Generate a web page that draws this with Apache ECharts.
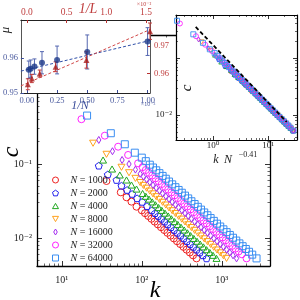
<!DOCTYPE html>
<html><head><meta charset="utf-8">
<script src="https://cdn.jsdelivr.net/npm/echarts@6/dist/echarts.min.js"></script>
<style>html,body{margin:0;padding:0;background:#fff}#c{width:300px;height:300px}</style>
</head><body><div id="c"></div>
<script>
// ---------------- data ----------------
const sizesN = [1000, 2000, 4000, 8000, 16000, 32000, 64000];

const k1000 = [36.2, 54.6, 64.4, 74.3, 85.9, 100, 109.6, 120.2, 131.8, 144.5, 158.5, 173.8, 190.5, 208.9, 229.1, 251.2, 275.4, 302.0, 331.1, 363.1, 398.1, 436.5, 483.1];
const c1000 = [0.0589, 0.0414, 0.0355, 0.0310, 0.0265, 0.02367, 0.02169, 0.01988, 0.01822, 0.01669, 0.01530, 0.01402, 0.01285, 0.01177, 0.01079, 0.00989, 0.00906, 0.00830, 0.00761, 0.00697, 0.00639, 0.00585, 0.00532];

const k2000 = [29.0, 37.6, 48.3, 55.7, 65.5, 75.6, 87.3, 101.2, 116.1, 133.4, 146.2, 160.3, 175.8, 192.8, 211.3, 231.7, 254.1, 278.6, 305.5, 335.0, 367.3, 402.7, 441.6, 484.2, 530.9, 582.1, 644.2];
const c2000 = [0.0948, 0.0722, 0.0608, 0.0509, 0.0446, 0.0394, 0.0344, 0.0308, 0.0270, 0.02367, 0.02169, 0.01988, 0.01822, 0.01669, 0.01530, 0.01402, 0.01285, 0.01177, 0.01079, 0.00989, 0.00906, 0.00830, 0.00761, 0.00697, 0.00639, 0.00585, 0.00532];

const k4000 = [32.8, 42.5, 53.1, 64.4, 74.3, 85.9, 102.3, 112.2, 123.0, 134.9, 147.9, 162.2, 177.8, 195.0, 213.8, 234.4, 257.0, 281.8, 309.0, 338.8, 371.5, 407.4, 446.7, 489.8, 537.0, 588.8, 645.7, 707.9, 776.2, 859.0];
const c4000 = [0.113, 0.0855, 0.0710, 0.0608, 0.0520, 0.0459, 0.03997, 0.03663, 0.03357, 0.03076, 0.02818, 0.02583, 0.02367, 0.02169, 0.01988, 0.01822, 0.01669, 0.01530, 0.01402, 0.01285, 0.01177, 0.01079, 0.00989, 0.00906, 0.00830, 0.00761, 0.00697, 0.00639, 0.00585, 0.00532];

const k8000 = [24.6, 36.2, 55.7, 69.2, 83.2, 95.5, 104.7, 114.8, 125.9, 138.0, 151.4, 166.0, 182.0, 199.5, 218.8, 239.9, 263.0, 288.4, 316.2, 346.7, 380.2, 416.9, 457.1, 501.2, 549.5, 602.6, 660.7, 724.4, 794.3, 871.0, 955.0, 1047, 1146];
const c8000 = [0.1905, 0.135, 0.0902, 0.0761, 0.0639, 0.0561, 0.0514, 0.0471, 0.0431, 0.0395, 0.0362, 0.0332, 0.0304, 0.0279, 0.0255, 0.0234, 0.02146, 0.01966, 0.01802, 0.01651, 0.01513, 0.01387, 0.01271, 0.01164, 0.01067, 0.00978, 0.00896, 0.00821, 0.00752, 0.00690, 0.00632, 0.00579, 0.00532];

const k16000 = [29.0, 43.0, 56.7, 69.2, 83.2, 95.5, 104.7, 114.8, 125.9, 138.0, 151.4, 166.0, 182.0, 199.5, 218.8, 239.9, 263.0, 288.4, 316.2, 346.7, 380.2, 416.9, 457.1, 501.2, 549.5, 602.6, 660.7, 724.4, 794.3, 871.0, 955.0, 1047, 1148, 1259, 1380, 1528];
const c16000 = [0.211, 0.1486, 0.1132, 0.0998, 0.0839, 0.0736, 0.0675, 0.06185, 0.05668, 0.05194, 0.04760, 0.04362, 0.03997, 0.03663, 0.03357, 0.03076, 0.02818, 0.02583, 0.02367, 0.02169, 0.01988, 0.01822, 0.01669, 0.01530, 0.01402, 0.01285, 0.01177, 0.01079, 0.00989, 0.00906, 0.00830, 0.00761, 0.00697, 0.00639, 0.00585, 0.00532];

const k32000 = [17.6, 34.5, 50.6, 67.4, 89.9, 102.3, 112.2, 123.0, 134.9, 147.9, 162.2, 177.8, 195.0, 213.8, 234.4, 257.0, 281.8, 309.0, 338.8, 371.5, 407.4, 446.7, 489.8, 537.0, 588.8, 645.7, 707.9, 776.2, 851.1, 933.3, 1023, 1122, 1230, 1349, 1479, 1622, 1778, 2037];
const c32000 = [0.402, 0.241, 0.171, 0.1324, 0.102, 0.0906, 0.0830, 0.0761, 0.0698, 0.0639, 0.0586, 0.0537, 0.0492, 0.0451, 0.0413, 0.0378, 0.0347, 0.0318, 0.0291, 0.0267, 0.02445, 0.02241, 0.02054, 0.01883, 0.01725, 0.01581, 0.01449, 0.01327, 0.01216, 0.01114, 0.01021, 0.00936, 0.00858, 0.00786, 0.00720, 0.00660, 0.00605, 0.00532];

const k64000 = [20.7, 41.0, 61.3, 81.8, 100, 112.2, 125.9, 138.0, 151.4, 166.0, 182.0, 199.5, 218.8, 239.9, 263.0, 288.4, 316.2, 346.7, 380.2, 416.9, 457.1, 501.2, 549.5, 602.6, 660.7, 724.4, 794.3, 871.0, 955.0, 1047, 1148, 1259, 1380, 1514, 1660, 1820, 1995, 2188, 2399, 2716];
const c64000 = [0.450, 0.260, 0.1845, 0.142, 0.1217, 0.1091, 0.0978, 0.0896, 0.0821, 0.0752, 0.0690, 0.0632, 0.0579, 0.0531, 0.0486, 0.0446, 0.0409, 0.0374, 0.0343, 0.0314, 0.0288, 0.0264, 0.0242, 0.02217, 0.02032, 0.01862, 0.01706, 0.01563, 0.01433, 0.01313, 0.01203, 0.01102, 0.01010, 0.00926, 0.00848, 0.00777, 0.00712, 0.00653, 0.00598, 0.00532];

const collapseExponent = 0.41;
const guideX = [0.485, 21.9];
const guideC = [0.35, 0.00754];

// top-left inset
const invN = [0.015625, 0.03125, 0.0625, 0.125, 0.25, 0.5, 1.0];     // x 1e-3
const muN = [0.9567, 0.9570, 0.9576, 0.9587, 0.9595, 0.9618, 0.9648];
const muNErr = [0.0025, 0.0025, 0.0022, 0.0032, 0.0040, 0.0049, 0.0040];
const fitNx = [-0.05, 1.02];
const fitNy = [0.9563, 0.9651];

const invL = [0.0125, 0.0625, 0.1625, 0.3625, 0.75, 1.55];          // x 1e-2
const muL = [0.9561, 0.9582, 0.9600, 0.9625, 0.9650, 0.9755];
const muLErr = [0.0020, 0.0015, 0.0013, 0.0018, 0.0030, 0.0030];
const fitLx = [-0.075, 1.55];
const fitLy = [0.9555, 0.9761];

const ticks1N = [0, 0.25, 0.5, 0.75, 1.0];
const ticks1L = [0, 0.5, 1.0, 1.5];
const ticksMuN = [0.95, 0.96];
const ticksMuL = [0.96, 0.97];

// ---------------- chart ----------------
const kData = [k1000, k2000, k4000, k8000, k16000, k32000, k64000];
const cData = [c1000, c2000, c4000, c8000, c16000, c32000, c64000];
const names = sizesN.map(n => 'N = ' + n);
const colors = ['#ee2222', '#2222ee', '#22a822', '#ffa21e', '#a42cf0', '#ff22ff', '#3a8ef2'];
const pentagon = 'path://M0,-10L9.51,-3.09L5.88,8.09L-5.88,8.09L-9.51,-3.09Z';
const upTri = 'path://M0,-8.7L10,8.7L-10,8.7Z';
const invTri = 'path://M-10,-8.7L10,-8.7L0,8.7Z';
const thinDiamond = 'path://M0,-10L6,0L0,10L-6,0Z';
const square = 'path://M-10,-10L10,-10L10,10L-10,10Z';
const symbols = ['circle', pentagon, upTri, invTri, thinDiamond, 'circle', square];
const serif = '"Liberation Serif", "DejaVu Serif", serif';
const sup = {'-': '\u207B', '0': '\u2070', '1': '\u00B9', '2': '\u00B2', '3': '\u00B3', '4': '\u2074'};
function pow10(v) {
  const e = Math.round(Math.log10(v));
  return '10' + String(e).split('').map(ch => sup[ch]).join('');
}
function minors(lo, hi) {
  const out = [];
  for (let d = -4; d <= 4; d++) {
    for (let m = 2; m <= 9; m++) {
      const v = m * Math.pow(10, d);
      if (v > lo && v < hi) out.push(+v.toPrecision(3));
    }
  }
  return out;
}

function logAx(grid, pos, min, max, majors, labels, opt) {
  opt = opt || {};
  const axes = [];
  axes.push({
    type: 'log', logBase: 10, gridIndex: grid, position: pos, min: min, max: max, z: opt.z || 0,
    axisLine: {show: true, onZero: false, lineStyle: {color: '#000', width: opt.lw || 1.3}},
    axisTick: {show: true, inside: true, length: opt.major || 5, customValues: majors, lineStyle: {color: '#000', width: 0.8}},
    axisLabel: labels ? {show: true, customValues: labels, formatter: pow10, fontFamily: serif, fontSize: opt.fs || 10, color: '#222', margin: opt.margin || 6} : {show: false},
    splitLine: {show: false}
  });
  axes.push({
    type: 'log', logBase: 10, gridIndex: grid, position: pos, min: min, max: max, z: opt.z || 0,
    axisLine: {show: false, onZero: false},
    axisTick: {show: true, inside: true, length: opt.minor || 2.5, customValues: minors(min, max), lineStyle: {color: '#000', width: 0.6}},
    axisLabel: {show: false},
    splitLine: {show: false}
  });
  return axes;
}

const mainX = [4.9, 4000], mainY = [0.0042, 5.5];
const insX = [0.2125, 33.7], insY = [0.00364, 0.567];

const xAxis = [].concat(
  logAx(0, 'bottom', mainX[0], mainX[1], [10, 100, 1000], [10, 100, 1000], {margin: 9}),   // 0,1
  logAx(0, 'top', mainX[0], mainX[1], [10, 100, 1000], null),                             // 2,3
  [
    { // 4: 1/N
      type: 'value', gridIndex: 1, position: 'bottom', min: fitNx[0], max: fitNx[1], z: 6,
      axisLine: {show: true, onZero: false, lineStyle: {color: '#222', width: 1}},
      axisTick: {show: true, inside: true, length: 3, customValues: ticks1N, lineStyle: {color: '#3a4c9a'}},
      axisLabel: {show: true, customValues: ticks1N, formatter: v => v.toFixed(2), fontFamily: serif, fontSize: 8.5, color: '#4a5a9e', margin: 3},
      splitLine: {show: false}
    },
    { // 5: 1/L
      type: 'value', gridIndex: 1, position: 'top', min: fitLx[0], max: fitLx[1], z: 6,
      axisLine: {show: true, onZero: false, lineStyle: {color: '#222', width: 1}},
      axisTick: {show: true, inside: true, length: 3, customValues: ticks1L, lineStyle: {color: '#b83030'}},
      axisLabel: {show: true, customValues: ticks1L, formatter: v => v.toFixed(1), fontFamily: serif, fontSize: 9.5, color: '#c04040', margin: 3},
      splitLine: {show: false}
    }
  ],
  logAx(2, 'bottom', insX[0], insX[1], [1, 10], [1, 10], {z: 6, fs: 9, margin: 1, major: 4, minor: 2, lw: 1.2}), // 6,7
  logAx(2, 'top', insX[0], insX[1], [1, 10], null, {z: 6, major: 4, minor: 2, lw: 1.2})                         // 8,9
);

const yAxis = [].concat(
  logAx(0, 'left', mainY[0], mainY[1], [0.01, 0.1, 1], [0.01, 0.1], {margin: 5}),  // 0,1
  logAx(0, 'right', mainY[0], mainY[1], [0.01, 0.1, 1], null),                      // 2,3
  [
    { // 4: mu (N)
      type: 'value', gridIndex: 1, position: 'left', min: 0.95, max: 0.971, z: 6,
      axisLine: {show: true, onZero: false, lineStyle: {color: '#555', width: 1}},
      axisTick: {show: true, inside: true, length: 3, customValues: ticksMuN, lineStyle: {color: '#3a4c9a'}},
      axisLabel: {show: true, customValues: ticksMuN, formatter: v => v.toFixed(2), fontFamily: serif, fontSize: 8.5, color: '#4a5a9e', margin: 3},
      splitLine: {show: false}
    },
    { // 5: mu (L)
      type: 'value', gridIndex: 1, position: 'right', min: 0.9529, max: 0.9796, z: 6,
      axisLine: {show: true, onZero: false, lineStyle: {color: '#555', width: 1}},
      axisTick: {show: true, inside: true, length: 3, customValues: ticksMuL, lineStyle: {color: '#b83030'}},
      axisLabel: {show: true, customValues: ticksMuL, formatter: v => v.toFixed(2), fontFamily: serif, fontSize: 8.5, color: '#c04040', margin: 4},
      splitLine: {show: false}
    }
  ],
  logAx(2, 'left', insY[0], insY[1], [0.01, 0.1], [0.01], {z: 6, fs: 9, margin: 4, major: 4, minor: 2, lw: 1.2}), // 6,7
  logAx(2, 'right', insY[0], insY[1], [0.01, 0.1], null, {z: 6, major: 4, minor: 2, lw: 1.2})                    // 8,9
);

const series = [];
sizesN.forEach((n, i) => {
  series.push({
    type: 'scatter', name: names[i], xAxisIndex: 0, yAxisIndex: 0,
    data: kData[i].map((k, j) => [k, cData[i][j]]),
    symbol: symbols[i], symbolSize: 7, symbolKeepAspect: true,
    itemStyle: {color: 'rgba(255,255,255,0)', borderColor: colors[i], borderWidth: 1, opacity: 1},
    z: 2, silent: true
  });
});
sizesN.forEach((n, i) => {
  const f = Math.pow(n, -collapseExponent);
  series.push({
    type: 'scatter', name: 'inset ' + n, xAxisIndex: 6, yAxisIndex: 6,
    data: kData[i].map((k, j) => [k * f, cData[i][j]]),
    symbol: symbols[i], symbolSize: 5, symbolKeepAspect: true,
    itemStyle: {color: 'rgba(255,255,255,0)', borderColor: colors[i], borderWidth: 0.9, opacity: 1},
    z: 8, silent: true
  });
});
series.push({
  type: 'line', name: 'guide', xAxisIndex: 6, yAxisIndex: 6, z: 9,
  data: guideX.map((x, j) => [x, guideC[j]]), showSymbol: false, symbol: 'none',
  lineStyle: {color: '#000', width: 1.8, type: [4, 2.5]}, silent: true
});

function errRender(color) {
  return function (params, api) {
    const x = api.value(0), y = api.value(1), e = api.value(2);
    const a = api.coord([x, y + e]), b = api.coord([x, y - e]);
    const st = {stroke: color, lineWidth: 1};
    return {type: 'group', children: [
      {type: 'line', shape: {x1: a[0], y1: a[1], x2: b[0], y2: b[1]}, style: st},
      {type: 'line', shape: {x1: a[0] - 2, y1: a[1], x2: a[0] + 2, y2: a[1]}, style: st},
      {type: 'line', shape: {x1: b[0] - 2, y1: b[1], x2: b[0] + 2, y2: b[1]}, style: st}
    ]};
  };
}
// fits
series.push({type: 'line', name: 'fitN', xAxisIndex: 4, yAxisIndex: 4, z: 8, data: fitNx.map((x, j) => [x, fitNy[j]]),
  symbol: 'none', lineStyle: {color: '#3050a8', width: 1, type: [3, 2]}, silent: true});
series.push({type: 'line', name: 'fitL', xAxisIndex: 5, yAxisIndex: 5, z: 8, data: fitLx.map((x, j) => [x, fitLy[j]]),
  symbol: 'none', lineStyle: {color: '#d04848', width: 1, type: [3, 2]}, silent: true});
series.push({type: 'custom', name: 'errN', xAxisIndex: 4, yAxisIndex: 4, z: 9,
  data: invN.map((x, j) => [x, muN[j], muNErr[j]]), renderItem: errRender('#5466b0'), silent: true});
series.push({type: 'custom', name: 'errL', xAxisIndex: 5, yAxisIndex: 5, z: 9,
  data: invL.map((x, j) => [x, muL[j], muLErr[j]]), renderItem: errRender('#c23a3a'), silent: true});
series.push({type: 'scatter', name: 'muN', xAxisIndex: 4, yAxisIndex: 4, z: 10,
  data: invN.map((x, j) => [x, muN[j]]), symbol: 'circle', symbolSize: 6, itemStyle: {color: '#1d3a8a'}, silent: true});
series.push({type: 'scatter', name: 'muL', xAxisIndex: 5, yAxisIndex: 5, z: 10,
  data: invL.map((x, j) => [x, muL[j]]), symbol: 'triangle', symbolSize: 6, itemStyle: {color: '#a81e1e'}, silent: true});

const t = (x, y, text, font, fill, extra) => Object.assign({type: 'text', x: x, y: y, z: 20,
  style: {text: text, font: font, fill: fill || '#000', align: 'center', verticalAlign: 'middle'}}, extra || {});

const option = {
  animation: false,
  backgroundColor: '#fff',
  textStyle: {fontFamily: serif},
  grid: [
    {left: 37, top: 35, width: 233, height: 231, show: false, z: 0},
    {left: 20, top: 20, width: 130, height: 73, show: true, backgroundColor: '#fff', borderWidth: 0, z: 5},
    {left: 176, top: 15, width: 121, height: 125, show: true, backgroundColor: '#fff', borderWidth: 0, z: 5}
  ],
  xAxis: xAxis,
  yAxis: yAxis,
  legend: {
    data: names, orient: 'vertical', left: 47, top: 169, itemWidth: 6, itemHeight: 6, itemGap: 1,
    symbolKeepAspect: true, selectedMode: false, z: 4,
    itemStyle: {borderWidth: 1},
    formatter: name => '{g|}{i|N} = ' + name.slice(4),
    textStyle: {fontFamily: serif, fontSize: 10, color: '#222', lineHeight: 12,
      rich: {g: {width: 7}, i: {fontStyle: 'italic', fontFamily: serif, fontSize: 10, color: '#222', lineHeight: 12}}}
  },
  graphic: [
    t(155, 291, 'k', 'italic 24px ' + serif),
    t(12, 152, 'c', 'italic 24px ' + serif, '#000', {rotation: Math.PI / 2}),
    t(80, 106, '1/N', 'italic 12px ' + serif, '#3a4c9a'),
    t(88, 9, '1/L', 'italic 14px ' + serif, '#c04040'),
    t(148, 104, '\u00D710\u207B\u00B3', '6px ' + serif, '#4a5a9e'),
    t(144, 4, '\u00D710\u207B\u00B2', '6px ' + serif, '#c04040'),
    t(6, 30, '\u03BC', 'italic 13px ' + serif, '#222', {rotation: Math.PI / 2}),
    t(187, 88, 'c', 'italic 15px ' + serif, '#000', {rotation: Math.PI / 2}),
    t(216, 160, 'k', 'italic 12px ' + serif, '#222'),
    t(228, 160, 'N', 'italic 12px ' + serif, '#222'),
    t(248, 155, '\u22120.41', '8px ' + serif, '#222')
  ],
  series: series
};
const chart = echarts.init(document.getElementById('c'), null, {renderer: 'canvas'});
chart.setOption(option);
</script>
</body></html>
